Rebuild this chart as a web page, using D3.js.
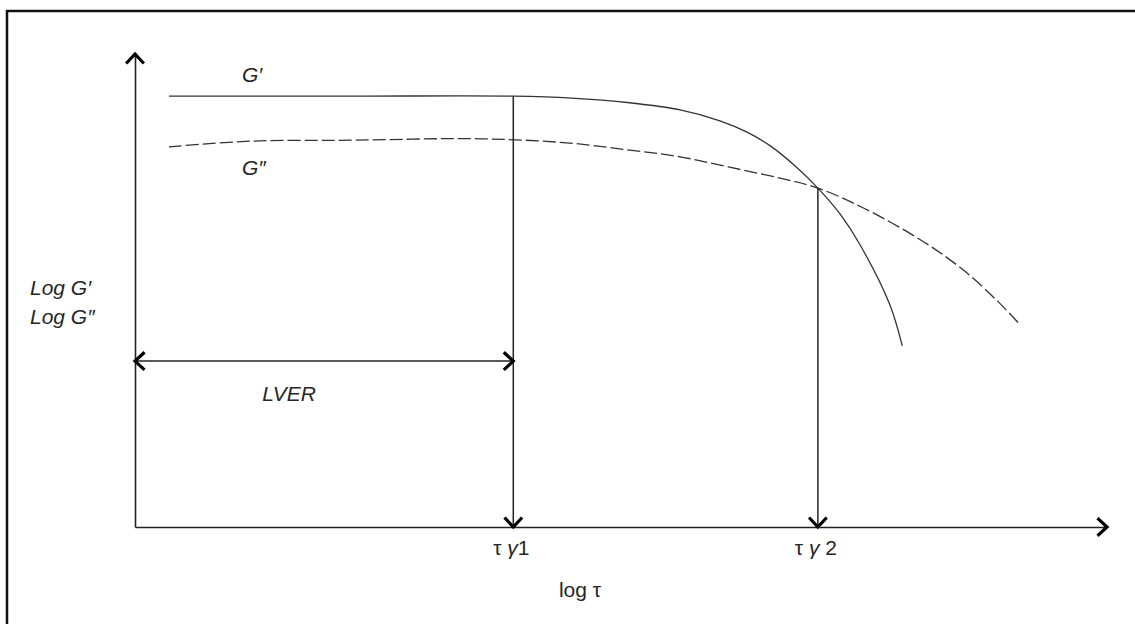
<!DOCTYPE html>
<html>
<head>
<meta charset="utf-8">
<script src="https://cdn.jsdelivr.net/npm/d3@7"></script>
<style>
  html, body { margin: 0; padding: 0; background: #fff; }
  svg { display: block; }
  text { font-family: "Liberation Sans", Arial, sans-serif; fill: #262626; }
</style>
</head>
<body>
<svg id="chart" width="1135" height="624"></svg>
<script>
// Schematic amplitude sweep: log G' and log G'' versus log stress (arbitrary units 0–10)
const storageX = [0.35, 2.22, 3.90, 4.50, 5.10, 5.62, 6.03, 6.31, 6.55, 6.82, 7.04, 7.27, 7.47, 7.78, 7.91];
const storageY = [9.09, 9.09, 9.09, 9.05, 8.95, 8.80, 8.57, 8.33, 8.04, 7.59, 7.15, 6.60, 5.97, 4.70, 3.82];
const lossX = [0.35, 1.19, 2.22, 3.56, 4.48, 5.10, 5.62, 6.13, 6.65, 7.04, 7.51, 8.12, 8.54, 8.89, 9.11];
const lossY = [8.02, 8.14, 8.16, 8.19, 8.10, 7.95, 7.81, 7.59, 7.36, 7.15, 6.73, 6.03, 5.42, 4.77, 4.30];
const criticalX = [3.90, 7.04];            // τγ1 (end of LVER), τγ2 (crossover)
const criticalY = [9.09, 7.15];            // curve value where each drop line starts
const criticalLabels = ["1", "2"];
const lverLevel = [3.50];
const seriesLabels = ["G\u2032", "G\u2033"];
const axisLabelsY = ["Log G\u2032", "Log G\u2033"];
const axisLabelX = "log \u03c4";
const rangeLabel = "LVER";

const svg = d3.select("#chart");

// outer frame (only its top and left edges fall inside the view)
svg.append("rect")
  .attr("x", 7).attr("y", 11).attr("width", 1300).attr("height", 800)
  .attr("fill", "none").attr("stroke", "#111").attr("stroke-width", 2.5);

const x = d3.scaleLinear().domain([0, 10]).range([135, 1105]);
const y = d3.scaleLinear().domain([0, 10]).range([527, 53]);

const ink = "#222";

// axes: plain lines with no ticks
svg.append("g").attr("transform", `translate(0,${y(0)})`)
  .call(d3.axisBottom(x).tickValues([]).tickSizeOuter(0))
  .call(g => g.select(".domain").attr("stroke", ink).attr("stroke-width", 1.6));
svg.append("g").attr("transform", `translate(${x(0)},0)`)
  .call(d3.axisLeft(y).tickValues([]).tickSizeOuter(0))
  .call(g => g.select(".domain").attr("stroke", ink).attr("stroke-width", 1.6));

// open chevron arrowhead; dir = angle the arrow points to
function chevron(px, py, dir) {
  const L = 13, spread = Math.PI / 4.2;
  const a1 = dir + Math.PI - spread, a2 = dir + Math.PI + spread;
  const p = d3.path();
  p.moveTo(px + L * Math.cos(a1), py + L * Math.sin(a1));
  p.lineTo(px, py);
  p.lineTo(px + L * Math.cos(a2), py + L * Math.sin(a2));
  svg.append("path").attr("d", p.toString())
    .attr("fill", "none").attr("stroke", "#000").attr("stroke-width", 3.2)
    .attr("stroke-linejoin", "miter");
}

chevron(x(0), y(10) + 1, -Math.PI / 2);     // y-axis arrow
chevron(x(10) + 2, y(0), 0);                // x-axis arrow

// curves
const lineGen = d3.line().x(d => x(d[0])).y(d => y(d[1])).curve(d3.curveCatmullRom.alpha(0.5));
const storage = storageX.map((v, i) => [v, storageY[i]]);
const loss = lossX.map((v, i) => [v, lossY[i]]);

svg.append("path").attr("d", lineGen(storage))
  .attr("fill", "none").attr("stroke", "#333").attr("stroke-width", 1.3);
svg.append("path").attr("d", lineGen(loss))
  .attr("fill", "none").attr("stroke", "#333").attr("stroke-width", 1.3)
  .attr("stroke-dasharray", "13,4");

// drop lines to the stress axis
criticalX.forEach((cx, i) => {
  svg.append("line")
    .attr("x1", x(cx)).attr("x2", x(cx))
    .attr("y1", y(criticalY[i])).attr("y2", y(0))
    .attr("stroke", ink).attr("stroke-width", 1.5);
  chevron(x(cx), y(0), Math.PI / 2);
});

// LVER double-headed arrow
svg.append("line")
  .attr("x1", x(0)).attr("x2", x(criticalX[0]))
  .attr("y1", y(lverLevel[0])).attr("y2", y(lverLevel[0]))
  .attr("stroke", ink).attr("stroke-width", 1.5);
chevron(x(0), y(lverLevel[0]), Math.PI);
chevron(x(criticalX[0]), y(lverLevel[0]), 0);

const fs = 21;

// series labels
svg.append("text").attr("x", 242).attr("y", 82)
  .attr("font-size", fs).attr("font-style", "italic").text(seriesLabels[0]);
svg.append("text").attr("x", 242).attr("y", 175)
  .attr("font-size", fs).attr("font-style", "italic").text(seriesLabels[1]);

// y-axis title
axisLabelsY.forEach((t, i) => {
  svg.append("text").attr("x", 30).attr("y", 295 + i * 29)
    .attr("font-size", fs).attr("font-style", "italic").text(t);
});

// range label
svg.append("text").attr("x", 289).attr("y", 401)
  .attr("text-anchor", "middle")
  .attr("font-size", fs).attr("font-style", "italic").text(rangeLabel);

// critical stress labels: τ γ n
criticalX.forEach((cx, i) => {
  const t = svg.append("text").attr("x", x(cx) - 2).attr("y", 555)
    .attr("text-anchor", "middle").attr("font-size", fs);
  t.append("tspan").text("\u03c4 ");
  t.append("tspan").attr("font-style", "italic").text("\u03b3");
  t.append("tspan").text(i === 0 ? criticalLabels[i] : " " + criticalLabels[i]);
});

// x-axis title
svg.append("text").attr("x", 580).attr("y", 597)
  .attr("text-anchor", "middle").attr("font-size", fs).text(axisLabelX);
</script>
</body>
</html>
